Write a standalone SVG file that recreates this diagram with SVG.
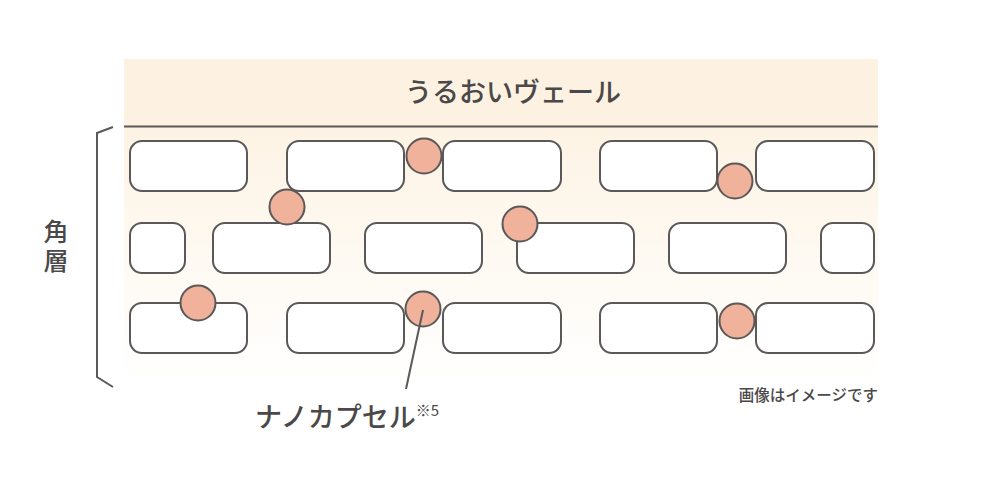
<svg xmlns="http://www.w3.org/2000/svg" width="990" height="477" viewBox="0 0 990 477">
<style>
.cell{fill:#fff;stroke:#5a5858;stroke-width:2}
.cap{fill:#f0b29b;stroke:#5a5858;stroke-width:2}
.ln{fill:none;stroke:#5a5858;stroke-width:2}
text{font-family:"Noto Sans CJK JP","Noto Sans",sans-serif;fill:#4a4848;font-weight:500}
</style>
<defs>
<linearGradient id="g" x1="0" y1="0" x2="0" y2="1">
<stop offset="0" stop-color="#fdf3e4"/>
<stop offset="1" stop-color="#fdf3e4" stop-opacity="0"/>
</linearGradient>
</defs>
<rect x="124" y="59" width="754" height="67" fill="#fdf2e2"/>
<rect x="124" y="126" width="754" height="258" fill="url(#g)"/>
<line x1="124" y1="126.5" x2="878" y2="126.5" class="ln"/>
<g id="veil-label"><text x="513" y="102" font-size="27" text-anchor="middle">うるおいヴェール</text></g>
<g id="bracket">
<polyline class="ln" points="113,127 97,133 97,377 113,387"/>
<text x="56" y="219" font-size="25" writing-mode="tb" letter-spacing="4">角層</text>
</g>
<g id="cells">
<rect class="cell" x="130" y="141" width="117" height="50" rx="12"/>
<rect class="cell" x="287" y="141" width="117" height="50" rx="12"/>
<rect class="cell" x="443" y="141" width="118" height="50" rx="12"/>
<rect class="cell" x="600" y="141" width="117" height="50" rx="12"/>
<rect class="cell" x="756" y="141" width="118" height="50" rx="12"/>
<rect class="cell" x="130" y="223" width="55" height="50" rx="12"/>
<rect class="cell" x="213" y="223" width="117" height="50" rx="12"/>
<rect class="cell" x="365" y="223" width="117" height="50" rx="12"/>
<rect class="cell" x="517" y="223" width="117" height="50" rx="12"/>
<rect class="cell" x="669" y="223" width="117" height="50" rx="12"/>
<rect class="cell" x="821" y="223" width="53" height="50" rx="12"/>
<rect class="cell" x="130" y="303" width="117" height="50" rx="12"/>
<rect class="cell" x="287" y="303" width="117" height="50" rx="12"/>
<rect class="cell" x="443" y="303" width="118" height="50" rx="12"/>
<rect class="cell" x="600" y="303" width="117" height="50" rx="12"/>
<rect class="cell" x="756" y="303" width="118" height="50" rx="12"/>
</g>
<g id="capsules">
<circle class="cap" cx="424" cy="156" r="17.5"/>
<circle class="cap" cx="735" cy="181" r="17.5"/>
<circle class="cap" cx="287" cy="207" r="17.5"/>
<circle class="cap" cx="520" cy="224" r="17.5"/>
<circle class="cap" cx="198" cy="303" r="17.5"/>
<circle class="cap" cx="423" cy="309" r="17.5"/>
<circle class="cap" cx="737" cy="321" r="17.5"/>
</g>
<g id="connectors">
<line class="ln" x1="423" y1="310" x2="406" y2="389"/>
</g>
<g id="nano-label">
<text x="255" y="427" font-size="27">ナノカプセル<tspan font-size="15" font-weight="400" dy="-11">※5</tspan></text>
</g>
<g id="note"><text x="878" y="401" font-size="15.5" text-anchor="end">画像はイメージです</text></g>
</svg>
